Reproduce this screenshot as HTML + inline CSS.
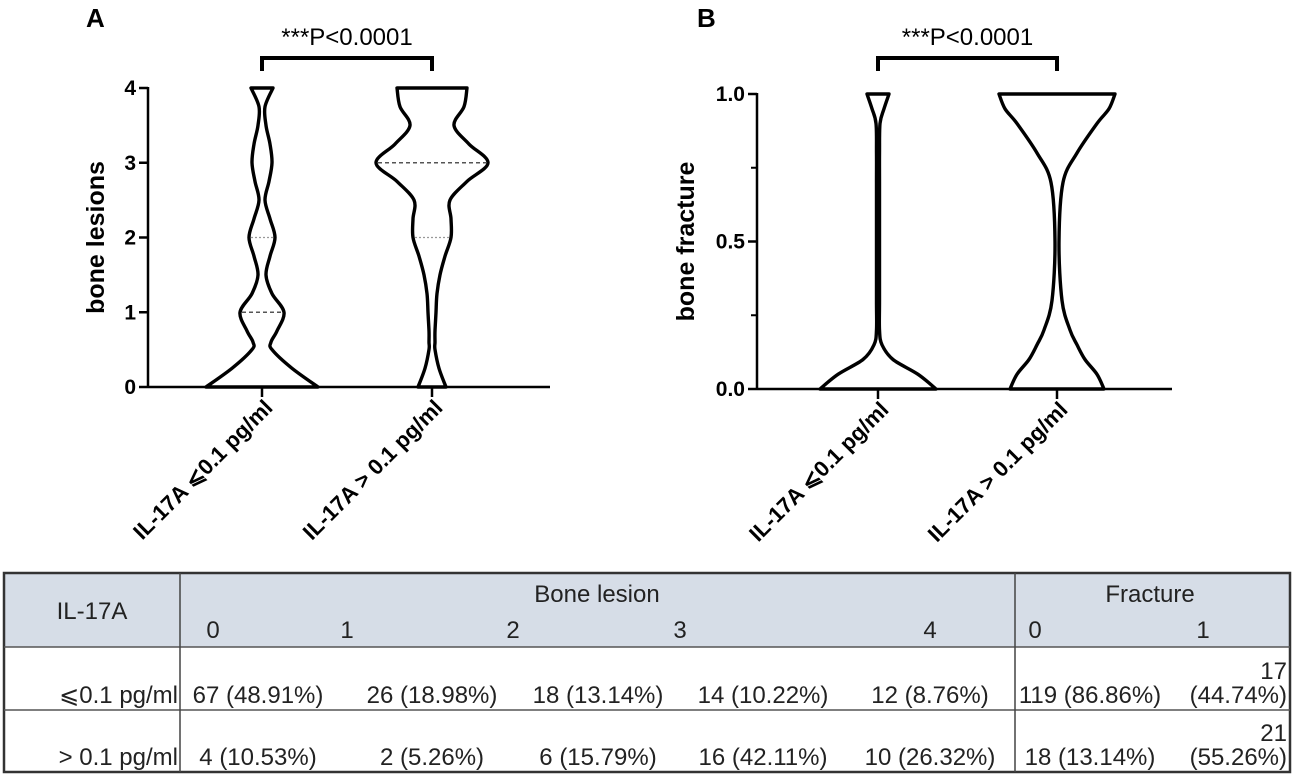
<!DOCTYPE html>
<html><head><meta charset="utf-8"><style>
body{margin:0;background:#fff;width:1292px;height:776px;overflow:hidden}
svg{display:block;font-family:"Liberation Sans","Noto Sans CJK SC",sans-serif}
</style></head><body>
<svg id="fig" width="1292" height="776" viewBox="0 0 1292 776">
<g id="panelA"></g>
<g id="panelB"></g>
<g id="tbl"></g>
</svg>
<script>
// ---- Panel A data ----
const aLevels = [0,0.25,0.5,0.6,0.75,1,1.25,1.5,1.75,2,2.25,2.5,2.75,3,3.25,3.5,3.75,4];
const aLowWidths = [56,30,10,9,15,22,10,4,8,13,8,3,7,10,8,4,3,11];
const aHighWidths = [14,7,3,3,3,4,5,8,13,19,19,18,35,56,37,22,32,35];
const aMedians = [1,3];
const aQuartiles = [[2],[2]];
const aTicks = ["0","1","2","3","4"];
// ---- Panel B data ----
const bLevels = [0,0.05,0.1,0.15,0.2,0.3,0.5,0.7,0.8,0.9,0.95,1];
const bLowWidths = [58,40,15,4,1.5,1.5,1.5,1.5,1.5,2,6,11];
const bHighWidths = [47,40,28,20,13,5,2,6,20,40,52,58];
const bTicks = ["0.0","0.5","1.0"];
const groups = ["IL-17A \u2a7d0.1 pg/ml","IL-17A > 0.1 pg/ml"];
const pText = "***P<0.0001";

const NS="http://www.w3.org/2000/svg";
function mk(parent,tag,attrs,text){const e=document.createElementNS(NS,tag);for(const k in attrs)e.setAttribute(k,attrs[k]);if(text!==undefined)e.textContent=text;parent.appendChild(e);return e;}

function smooth(pts){
  let d="M"+pts[0][0]+","+pts[0][1];
  for(let i=0;i<pts.length-1;i++){
    const p0=pts[Math.max(0,i-1)],p1=pts[i],p2=pts[i+1],p3=pts[Math.min(pts.length-1,i+2)];
    const c1=[p1[0]+(p2[0]-p0[0])/6,p1[1]+(p2[1]-p0[1])/6];
    const c2=[p2[0]-(p3[0]-p1[0])/6,p2[1]-(p3[1]-p1[1])/6];
    d+=" C"+c1[0].toFixed(1)+","+c1[1].toFixed(1)+" "+c2[0].toFixed(1)+","+c2[1].toFixed(1)+" "+p2[0].toFixed(1)+","+p2[1].toFixed(1);
  }
  return d;
}
function violin(g,levels,widths,cx,y,name){
  const left=levels.map((v,i)=>[cx-widths[i],y(v)]);
  const right=levels.map((v,i)=>[cx+widths[i],y(v)]).reverse();
  let d=smooth(left)+" L"+right[0][0]+","+right[0][1]+smooth(right).replace(/^M[^C]*/," ")+" Z";
  const p=mk(g,"path",{d:d,fill:"none",stroke:"#000","stroke-width":3.4,"stroke-linejoin":"round"});
  
  
  return p;
}
function halfW(levels,widths,v){for(let i=0;i<levels.length-1;i++){if(v>=levels[i]&&v<=levels[i+1]){const t=(v-levels[i])/(levels[i+1]-levels[i]);return widths[i]+t*(widths[i+1]-widths[i]);}}return 0;}

function panel(g,o){
  const y=v=>o.y0-(v-o.vmin)/(o.vmax-o.vmin)*(o.y0-o.y1);
  const L=mk(g,"text",{x:o.lx,y:27,"font-size":26,"font-weight":"bold"},o.letter);
  
  mk(g,"line",{x1:o.ax,y1:y(o.vmax)-1,x2:o.ax,y2:o.y0,stroke:"#000","stroke-width":2.5});
  o.ticks.forEach((t,i)=>{const v=o.vmin+i*(o.vmax-o.vmin)/(o.ticks.length-1);const yy=y(v);
    mk(g,"line",{x1:o.ax-9,y1:yy,x2:o.ax,y2:yy,stroke:"#000","stroke-width":2.5});
    const tl=mk(g,"text",{x:o.ax-12,y:yy+7,"font-size":21,"font-weight":"bold","text-anchor":"end"},t);
    
  });
  (o.minor||[]).forEach(v=>{const yy=y(v);mk(g,"line",{x1:o.ax-6,y1:yy,x2:o.ax,y2:yy,stroke:"#000","stroke-width":2});});
  const yt=mk(g,"text",{transform:`translate(${o.tx},${(o.y0+o.y1)/2}) rotate(-90)`,"font-size":25,"font-weight":"bold","text-anchor":"middle"},o.ytitle);
  
  mk(g,"line",{x1:o.ax,y1:o.y0,x2:o.xend,y2:o.y0,stroke:"#000","stroke-width":2.5});
  o.cx.forEach((cx,i)=>{
    mk(g,"line",{x1:cx,y1:o.y0,x2:cx,y2:o.y0+10,stroke:"#000","stroke-width":2.5});
    const xl=mk(g,"text",{transform:`translate(${cx+12},${o.y0+22}) rotate(-45)`,"font-size":22,"font-weight":"bold","text-anchor":"end"},groups[i]);
    
  });
  violin(g,o.levels,o.w[0],o.cx[0],y,"violin-low");
  violin(g,o.levels,o.w[1],o.cx[1],y,"violin-high");
  (o.med||[]).forEach((m,i)=>{const hw=halfW(o.levels,o.w[i],m);
    mk(g,"line",{x1:o.cx[i]-hw+2,y1:y(m),x2:o.cx[i]+hw-2,y2:y(m),stroke:"#555","stroke-width":1.5,"stroke-dasharray":"4,3"});
    (o.q||[])[i].forEach(q=>{const h2=halfW(o.levels,o.w[i],q);
      mk(g,"line",{x1:o.cx[i]-h2+2,y1:y(q),x2:o.cx[i]+h2-2,y2:y(q),stroke:"#999","stroke-width":1.3,"stroke-dasharray":"2,2"});});
  });
  const br=mk(g,"path",{d:`M${o.cx[0]},71 V58 H${o.cx[1]} V71`,fill:"none",stroke:"#000","stroke-width":4});
  
  const pt=mk(g,"text",{x:(o.cx[0]+o.cx[1])/2,y:45,"font-size":24,"text-anchor":"middle"},pText);
  
}
panel(document.getElementById("panelA"),{letter:"A",lx:86,tx:104,ax:148,y0:387,y1:88,vmin:0,vmax:4,xend:550,cx:[262,432],
  ticks:aTicks,ytitle:"bone lesions",levels:aLevels,w:[aLowWidths,aHighWidths],med:aMedians,q:aQuartiles});
panel(document.getElementById("panelB"),{letter:"B",lx:697,tx:694,ax:757,y0:389,y1:94,vmin:0,vmax:1,xend:1172,cx:[878,1057],
  ticks:bTicks,minor:[0.25,0.75],ytitle:"bone fracture",levels:bLevels,w:[bLowWidths,bHighWidths]});

// ---- Table ----
const tg=document.getElementById("tbl");
mk(tg,"rect",{x:4,y:573,width:1286,height:74,fill:"#d6dde7"});
mk(tg,"rect",{x:4,y:573,width:1286,height:199,fill:"none",stroke:"#333","stroke-width":2.5});
[647,710].forEach(yy=>mk(tg,"line",{x1:4,y1:yy,x2:1290,y2:yy,stroke:"#555","stroke-width":1.5}));
[180,1015].forEach(xx=>mk(tg,"line",{x1:xx,y1:573,x2:xx,y2:772,stroke:"#444","stroke-width":1.5}));
const rowLabels=["\u2a7d0.1 pg/ml","> 0.1 pg/ml"];
const row1=["67 (48.91%)","26 (18.98%)","18 (13.14%)","14 (10.22%)","12 (8.76%)","119 (86.86%)"];
const row2=["4 (10.53%)","2 (5.26%)","6 (15.79%)","16 (42.11%)","10 (26.32%)","18 (13.14%)"];
const frac1=[["17","(44.74%)"],["21","(55.26%)"]];
const hdrX=[213,347,513,680,930,1035,1203];
const hdrL=["0","1","2","3","4","0","1"];
const cellX=[258,432,598,763,930,1090];
function tt(x,y,s,anchor,name){const e=mk(tg,"text",{x:x,y:y,"font-size":24,"text-anchor":anchor||"middle",fill:"#222"},s);return e;}
tt(92,619,"IL-17A","middle","header-il17a");
tt(597,602,"Bone lesion","middle","header-bone-lesion");
tt(1150,602,"Fracture","middle","header-fracture");
hdrL.forEach((s,i)=>tt(hdrX[i],638,s,"middle","header-level"));
[row1,row2].forEach((r,ri)=>{const by=ri?765:703;
  tt(178,by,rowLabels[ri],"end","row-label");
  r.forEach((s,i)=>tt(cellX[i],by,s,"middle","table-cell"));
  tt(1287,by-24,frac1[ri][0],"end","table-cell");
  tt(1287,by,frac1[ri][1],"end","table-cell");
});
</script>
</body></html>
